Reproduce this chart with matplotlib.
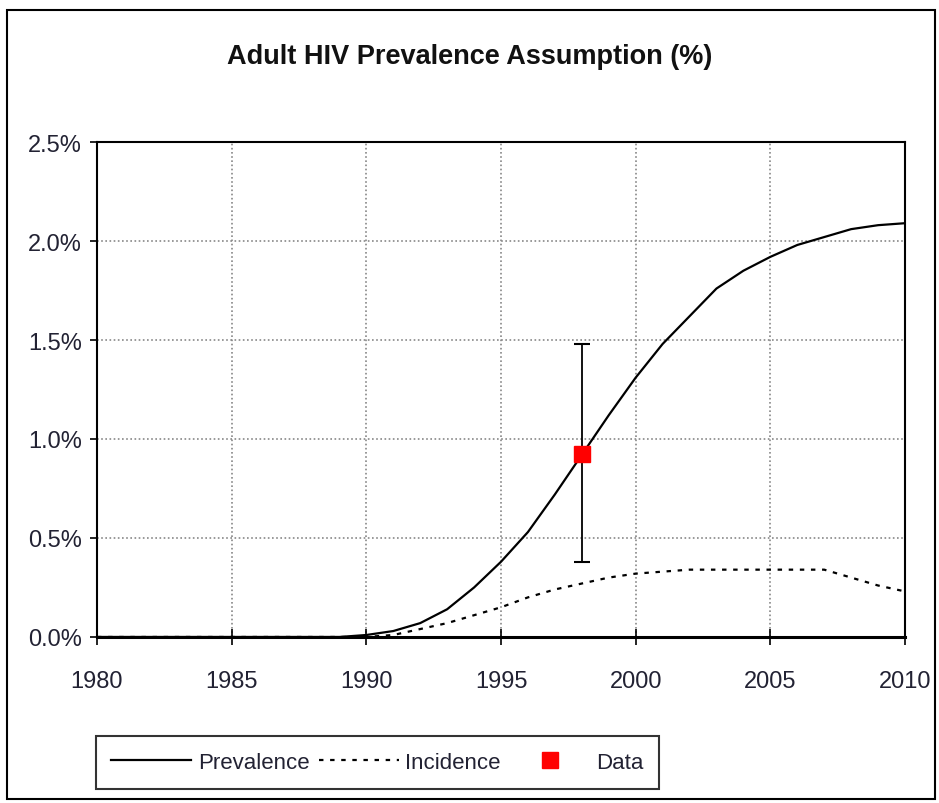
import numpy as np
import matplotlib.pyplot as plt
from matplotlib.lines import Line2D
from matplotlib.patches import Rectangle

plt.rcParams['font.family'] = ['Liberation Sans Narrow', 'Liberation Sans', 'DejaVu Sans']

# Datos
years = list(range(1980, 2011))
prevalence = [0, 0, 0, 0, 0, 0, 0, 0, 0, 0,
              0.01, 0.03, 0.07, 0.14, 0.25, 0.38, 0.53, 0.72, 0.92, 1.12,
              1.31, 1.48, 1.62, 1.76, 1.85, 1.92, 1.98, 2.02, 2.06, 2.08, 2.09]
incidence = [0, 0, 0, 0, 0, 0, 0, 0, 0, 0,
             0, 0.01, 0.04, 0.07, 0.11, 0.15, 0.20, 0.24, 0.27, 0.30,
             0.32, 0.33, 0.34, 0.34, 0.34, 0.34, 0.34, 0.34, 0.30, 0.26, 0.23]
data_year = [1998]
data_value = [0.925]
data_low = [0.38]
data_high = [1.48]

x_ticks = [1980, 1985, 1990, 1995, 2000, 2005, 2010]
y_ticks = [0.0, 0.5, 1.0, 1.5, 2.0, 2.5]
y_labels = ['0.0%', '0.5%', '1.0%', '1.5%', '2.0%', '2.5%']

fig = plt.figure(figsize=(9.39, 8.04), dpi=100)
ax = fig.add_axes([0.1033, 0.2065, 0.8605, 0.6156])

# Borde exterior
fig.patches.append(Rectangle((0.007, 0.005), 0.989, 0.981, transform=fig.transFigure,
                             fill=False, edgecolor='black', linewidth=1.5))

ax.plot(years, prevalence, color='black', linewidth=1.6, label='Prevalence')
ax.plot(years, incidence, color='black', linewidth=1.6, linestyle=(0, (2, 3)), label='Incidence')

err = [[data_value[0] - data_low[0]], [data_high[0] - data_value[0]]]
ax.errorbar(data_year, data_value, yerr=err, fmt='none', ecolor='black',
            elinewidth=1.3, capsize=6, capthick=1.5)
ax.plot(data_year, data_value, 's', color='red', markersize=12, zorder=5)

ax.set_xlim(1980, 2010)
ax.set_ylim(0, 2.5)
ax.set_xticks(x_ticks)
ax.set_yticks(y_ticks)
ax.set_yticklabels(y_labels)
ax.tick_params(axis='x', direction='inout', length=12, width=1.2, labelsize=17,
               pad=18, labelcolor='#222233')
ax.tick_params(axis='y', direction='out', length=5, width=1.2, labelsize=17,
               pad=6, labelcolor='#222233')
ax.grid(True, color='#888888', linestyle=(0, (1, 1.5)), linewidth=1.2)
for s in ax.spines.values():
    s.set_linewidth(1.5)
ax.spines['bottom'].set_linewidth(2.2)

fig.text(0.5, 0.929, 'Adult HIV Prevalence Assumption (%)', ha='center', va='center',
         fontsize=19.5, fontweight='bold', color='#111111')

handles = [Line2D([], [], color='black', linewidth=1.6),
           Line2D([], [], color='black', linewidth=1.6, linestyle=(0, (2, 3))),
           Line2D([], [], color='red', marker='s', markersize=12, linestyle='none')]
leg = fig.legend(handles, ['Prevalence', 'Incidence', 'Data'], ncol=3,
                 loc='center', bbox_to_anchor=(0.402, 0.0504), fontsize=16,
                 fancybox=False, edgecolor='black', handlelength=3.6,
                 handletextpad=0.3, columnspacing=0.4, borderpad=0.7,
                 borderaxespad=0)
leg.get_frame().set_linewidth(1.5)
for t in leg.get_texts():
    t.set_color('#222233')

fig.savefig('out.png', dpi=100, facecolor='white')
